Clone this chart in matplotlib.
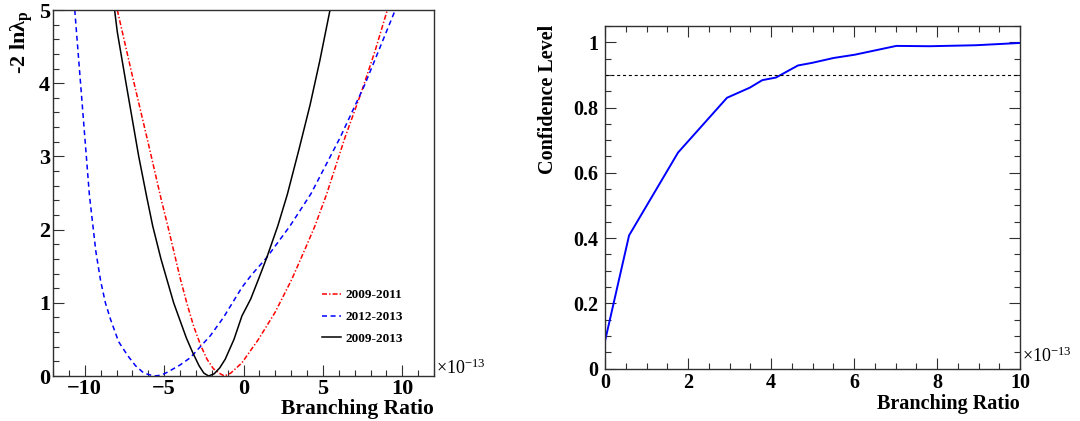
import matplotlib
matplotlib.use("Agg")
import matplotlib.pyplot as plt
from matplotlib.ticker import MultipleLocator

plt.rcParams['font.family'] = ['Liberation Serif', 'DejaVu Serif']
plt.rcParams['font.weight'] = 'bold'
plt.rcParams['axes.labelweight'] = 'bold'
plt.rcParams['mathtext.fontset'] = 'custom'
plt.rcParams['mathtext.rm'] = 'Liberation Serif:bold'
plt.rcParams['mathtext.bf'] = 'Liberation Serif:bold'
plt.rcParams['mathtext.it'] = 'Liberation Serif:italic:bold'
plt.rcParams['mathtext.default'] = 'bf'
plt.rcParams['lines.scale_dashes'] = False
plt.rcParams['axes.unicode_minus'] = True

# ---------------- data: left panel (-2 ln lambda_p vs branching ratio, x 1e-13)
red_label = "2009-2011"
red_x = [-7.95, -7.0, -6.0, -5.17, -4.77, -3.97, -3.55, -3.14, -2.7, -2.3, -1.9, -1.46,
         -1.2, -0.8, -0.1, 0.94, 1.99, 3.04, 3.87, 4.5, 5.23, 6.38, 7.43, 8.3, 9.06]
red_y = [5.0, 4.1, 3.18, 2.4, 2.05, 1.32, 0.98, 0.68, 0.42, 0.23, 0.1, 0.03,
         0.0, 0.04, 0.18, 0.5, 0.87, 1.32, 1.73, 2.05, 2.48, 3.25, 3.88, 4.45, 5.0]

blue_label = "2012-2013"
blue_x = [-10.63, -10.17, -9.71, -9.3, -9.0, -8.7, -8.37, -7.87, -7.3, -6.8, -6.28, -5.65,
          -5.2, -4.81, -4.0, -3.35, -2.09, -1.26, -0.1, 0.5, 1.47, 2.93, 4.25, 6.07, 7.64, 9.56]
blue_y = [5.0, 3.74, 2.48, 1.7, 1.3, 1.0, 0.77, 0.47, 0.28, 0.14, 0.04, 0.0,
          0.01, 0.05, 0.15, 0.25, 0.55, 0.8, 1.21, 1.38, 1.62, 2.05, 2.49, 3.25, 3.98, 5.0]

black_label = "2009-2013"
black_x = [-8.12, -7.95, -7.4, -6.6, -6.1, -5.72, -5.2, -4.8, -4.4, -4.0, -3.6, -3.2,
           -2.8, -2.5, -2.2, -1.85, -1.5, -1.15, -0.6, -0.1, 0.45, 0.94, 1.47, 2.16, 2.76,
           3.5, 4.19, 4.8, 5.45]
black_y = [5.0, 4.7, 4.0, 3.0, 2.45, 2.05, 1.6, 1.3, 1.0, 0.76, 0.52, 0.32,
           0.14, 0.04, 0.0, 0.03, 0.11, 0.23, 0.5, 0.82, 1.05, 1.32, 1.62, 2.05, 2.48,
           3.1, 3.7, 4.3, 5.0]

# ---------------- data: right panel (confidence level vs branching ratio)
cl_x = [0.0, 0.58, 1.76, 2.94, 3.49, 3.79, 4.12, 4.65, 4.99, 5.51, 6.02, 7.02, 7.82, 8.93, 10.0]
cl_y = [0.084, 0.408, 0.662, 0.830, 0.861, 0.884, 0.892, 0.929, 0.937, 0.952, 0.962,
        0.989, 0.988, 0.991, 0.998]
cl_ref = 0.9

left_xticks = [-10, -5, 0, 5, 10]
left_yticks = [0, 1, 2, 3, 4, 5]
right_xticks = [0, 2, 4, 6, 8, 10]
right_yticks = [0, 0.2, 0.4, 0.6, 0.8, 1]
right_yticklabels = ["0", "0.2", "0.4", "0.6", "0.8", "1"]

W, H = 1080, 421
fig = plt.figure(figsize=(W / 100, H / 100), dpi=100)

def box(l, t, r, b):
    return [l / W, 1 - b / H, (r - l) / W, (b - t) / H]

frame_col = '#303030'

# ---------------- left panel
ax1 = fig.add_axes(box(53, 10, 434, 376))
ax1.plot(red_x, red_y, color='red', lw=1.1, ls=(0, (3.6, 1.5, 1.0, 1.5)), label=red_label)
ax1.plot(blue_x, blue_y, color='blue', lw=1.1, ls=(0, (3.6, 2.6)), label=blue_label)
ax1.plot(black_x, black_y, color='black', lw=1.1, ls='-', label=black_label)
ax1.set_xlim(-12, 12)
ax1.set_ylim(0, 5)
ax1.set_xticks(left_xticks)
ax1.set_yticks(left_yticks)
ax1.xaxis.set_minor_locator(MultipleLocator(1))
ax1.yaxis.set_minor_locator(MultipleLocator(0.2))
ax1.tick_params(which='both', direction='in', top=False, right=False, width=0.8, color=frame_col)
ax1.tick_params(which='major', length=8)
ax1.tick_params(which='minor', length=4.3)
ax1.tick_params(axis='x', labelsize=16, pad=2)
ax1.tick_params(axis='y', labelsize=16, pad=2)
for s in ax1.spines.values():
    s.set_linewidth(1.0)
    s.set_color(frame_col)
ax1.legend(loc='center left', bbox_to_anchor=(0.706, 0.161), frameon=False,
           prop={'size': 9.5, 'weight': 'bold'}, handlelength=1.45, handletextpad=0.3,
           labelspacing=0.72, borderpad=0, borderaxespad=0)
ax1.text(1.004, 0.022, r'$\mathregular{\times10^{-13}}$', transform=ax1.transAxes,
         ha='left', va='center', fontsize=13, fontweight='normal')
ax1.set_xlabel('Branching Ratio', fontsize=15.5, fontweight='bold', ha='right', x=1.0, labelpad=0)
fig.text(22 / W, 1 - 10 / H, r'-2 ln$\mathregular{\lambda_{p}}$', rotation=90,
         ha='center', va='top', fontsize=16, fontweight='bold')

# ---------------- right panel
ax2 = fig.add_axes(box(605, 26, 1020, 368.5))
ax2.plot(cl_x, cl_y, color='blue', lw=1.4)
ax2.axhline(cl_ref, color='black', lw=0.8, ls=(0, (2.2, 2.0)))
ax2.set_xlim(0, 10)
ax2.set_ylim(0, 1.05)
ax2.set_xticks(right_xticks)
ax2.set_yticks(right_yticks)
ax2.set_yticklabels(right_yticklabels)
ax2.xaxis.set_minor_locator(MultipleLocator(0.5))
ax2.yaxis.set_minor_locator(MultipleLocator(0.05))
ax2.tick_params(which='both', direction='in', top=True, right=True, width=0.8, color=frame_col)
ax2.tick_params(which='major', length=8)
ax2.tick_params(which='minor', length=4.3)
ax2.tick_params(axis='x', labelsize=14.5, pad=3)
ax2.tick_params(axis='y', labelsize=14.5, pad=5)
for s in ax2.spines.values():
    s.set_linewidth(1.0)
    s.set_color(frame_col)
ax2.text(1.004, 0.036, r'$\mathregular{\times10^{-13}}$', transform=ax2.transAxes,
         ha='left', va='center', fontsize=13, fontweight='normal')
ax2.set_xlabel('Branching Ratio', fontsize=14.5, fontweight='bold', ha='right', x=1.0, labelpad=1)
fig.text(548 / W, 1 - 25 / H, 'Confidence Level', rotation=90,
         ha='center', va='top', fontsize=14.5, fontweight='bold')

fig.savefig('out.png', dpi=100)
